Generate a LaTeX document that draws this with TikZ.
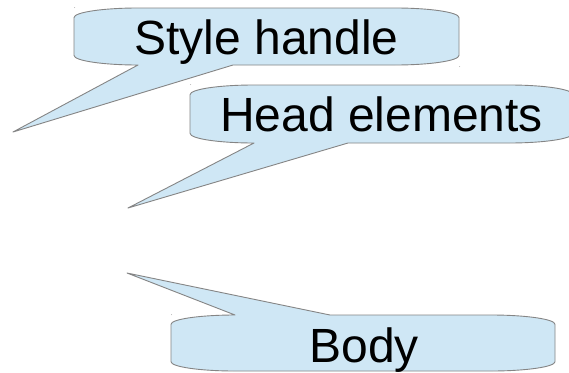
\documentclass[tikz,border=0pt]{standalone}
\usepackage{fontspec}
\setmainfont{Liberation Sans}
\definecolor{calloutfill}{HTML}{CFE7F5}
\definecolor{calloutline}{HTML}{858585}
\begin{document}
\begin{tikzpicture}[x=1pt,y=-1pt,
  bubble/.style={fill=calloutfill,draw=calloutline,line width=0.9pt,line join=round},
  label/.style={inner sep=0pt,anchor=base,font=\fontsize{48}{57}\selectfont},
  marker/.style={fill=calloutline!60,draw=none}]
\clip (0,0) rectangle (569,372);
\fill[white] (0,0) rectangle (569,372);

% "Style handle" callout, tail pointing down-left
\path[bubble] (74,17.6) .. controls (74,12.3) and (102.7,8) .. (138,8)
  -- (395,8) .. controls (430.3,8) and (459,12.3) .. (459,17.6)
  -- (459,55.4) .. controls (459,60.7) and (430.3,65) .. (395,65)
  -- (233,65) -- (13,132) -- (138,65)
  .. controls (102.7,65) and (74,60.7) .. (74,55.4) -- cycle;
\node[label] (style) at (266.5,54) {Style handle};

% "Head elements" callout, tail pointing down-left
\path[bubble] (190,94.7) .. controls (190,89.3) and (218.7,85) .. (254,85)
  -- (509,85) .. controls (544.3,85) and (573,89.3) .. (573,94.7)
  -- (573,133.3) .. controls (573,138.7) and (544.3,143) .. (509,143)
  -- (348,143) -- (128,208) -- (254,143)
  .. controls (218.7,143) and (190,138.7) .. (190,133.3) -- cycle;
\node[label] (head) at (381.5,131) {Head elements};

% "Body" callout, tail pointing up-left
\path[bubble] (171,324.3) .. controls (171,319.2) and (199.7,315) .. (235,315)
  -- (127,273) -- (330,315)
  -- (491,315) .. controls (526.3,315) and (555,319.2) .. (555,324.3)
  -- (555,361.7) .. controls (555,366.8) and (526.3,371) .. (491,371)
  -- (235,371) .. controls (199.7,371) and (171,366.8) .. (171,361.7) -- cycle;
\node[label] (body) at (364,362) {Body};

% corner handle marks
\fill[marker] (74.5,7.5) circle (0.5);
\fill[marker] (459.5,66.5) circle (0.5);
\fill[marker] (190.5,84.5) circle (0.5);
\fill[marker] (171.5,314.5) circle (0.5);
\end{tikzpicture}
\end{document}
